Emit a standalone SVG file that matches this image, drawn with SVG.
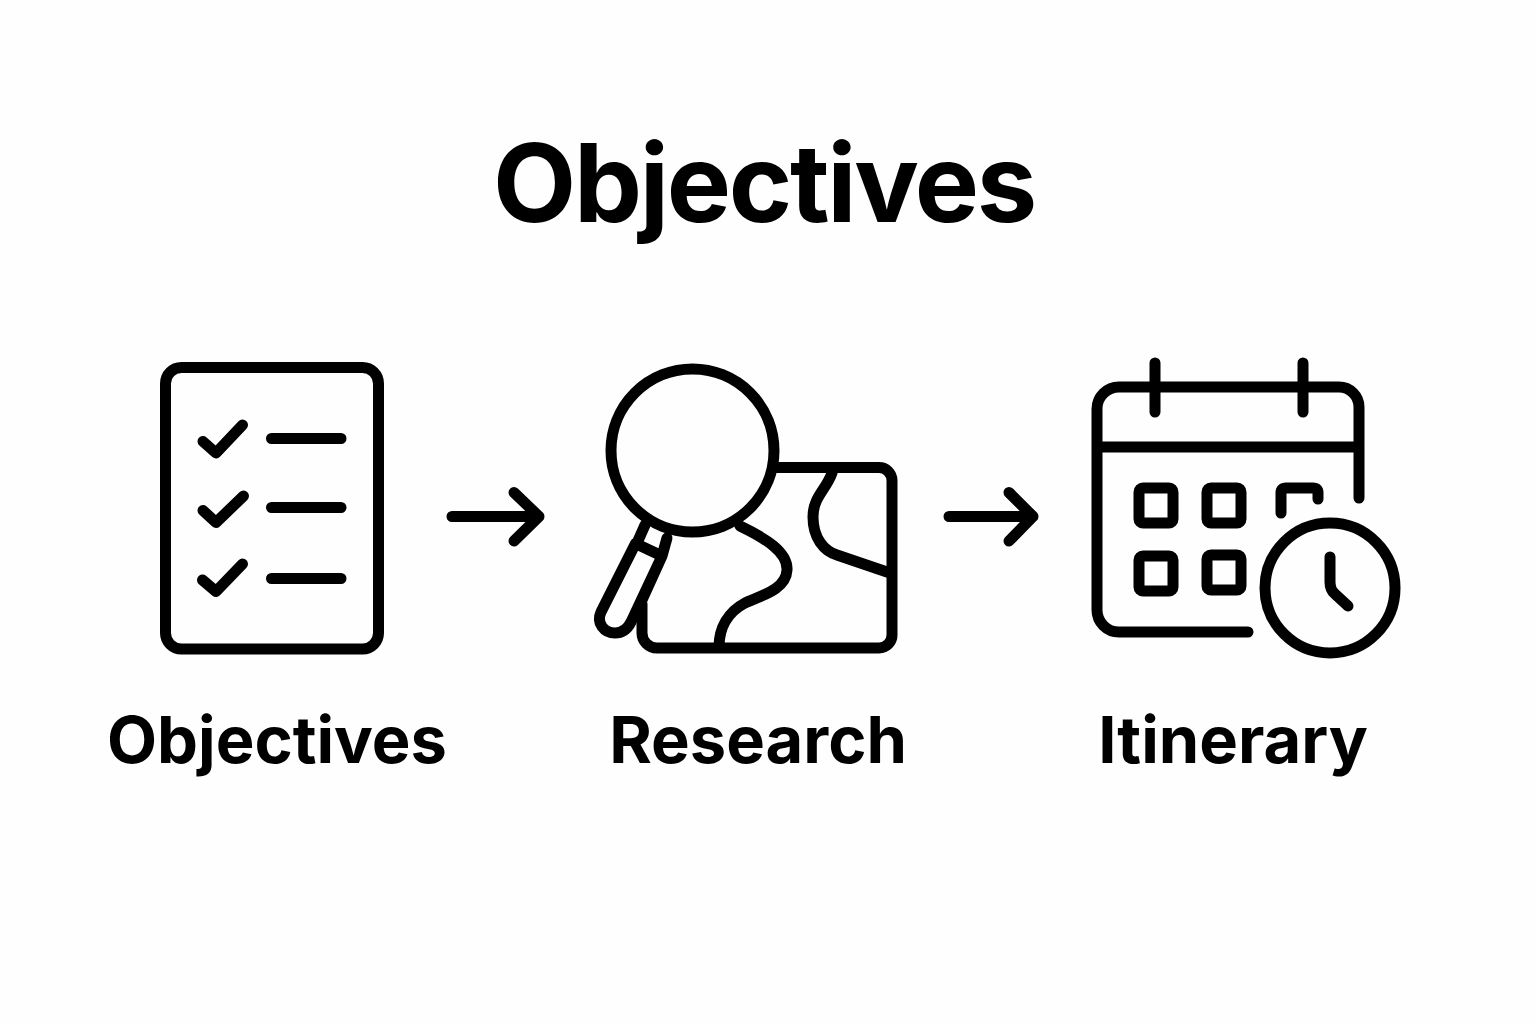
<svg xmlns="http://www.w3.org/2000/svg" width="1536" height="1024" viewBox="0 0 1536 1024">
<style>
.i{fill:none;stroke:#000;stroke-width:11;stroke-linecap:round;stroke-linejoin:round}
.t{font-family:Inter,"Liberation Sans",sans-serif;font-weight:700;fill:#000;text-anchor:middle}
.l{font-size:65px}
</style>
<rect width="1536" height="1024" fill="#fefefe"/>
<text id="title" class="t" x="764" y="222" font-size="108" letter-spacing="-2.300">Objectives</text>
<g id="connectors" class="i">
<path d="M452 516.500H539M514 492.500L539 516.500L514 541"/>
<path d="M949 516.500H1033M1009 492.500L1033 516.500L1009 541"/>
</g>
<g id="node-objectives">
<g class="i">
<rect x="165.500" y="367.500" width="213" height="281.500" rx="16"/>
<path d="M203 441.500L216 453L242.500 425M271.500 438.500H341"/>
<path d="M203 510.500L216 522.500L243.500 496M271.500 507.500H341"/>
<path d="M202.500 580L216 591.500L242.500 564M271.500 578.500H341"/>
</g>
<text class="t l" x="277" y="763">Objectives</text>
</g>
<g id="node-research">
<g class="i">
<path d="M777 467.500H879A13 13 0 0 1 892 480.500V635A13 13 0 0 1 879 648H657A15 15 0 0 1 642 633V604"/>
<path d="M740 526C765 538 788 552 787 570C786 590 760 596 745 603C728 612 719 628 719 647"/>
<path d="M832 473C826 490 813 497 813 517C813 538 824 551 837 555L887 572"/>
<circle cx="692.500" cy="450.500" r="81.500"/>
<path d="M635.500 543.500L601 612C596 623 604 633 615 633C623 633 628 628 631 622L662 556ZM645 525L637 543M667 538L662 556L642 600"/>
</g>
<text class="t l" x="758" y="763">Research</text>
</g>
<g id="node-itinerary">
<g class="i">
<path d="M1248 632H1119A22 22 0 0 1 1097 610V409A22 22 0 0 1 1119 387H1339A20 20 0 0 1 1359 407V498M1097 447H1359M1155 363V412M1303 363V412"/>
<rect x="1139" y="488" width="34" height="35" rx="4"/>
<rect x="1207" y="488" width="34" height="35" rx="4"/>
<rect x="1139" y="556" width="34" height="35" rx="4"/>
<rect x="1207" y="555" width="34" height="35" rx="4"/>
<path d="M1281 513V493Q1281 488 1286 488H1313Q1318 488 1318 493V499"/>
<circle cx="1330" cy="588" r="65"/>
<path d="M1330 557V582Q1330 590 1335 594L1348 606"/>
</g>
<text class="t l" x="1233" y="763">Itinerary</text>
</g>
</svg>
